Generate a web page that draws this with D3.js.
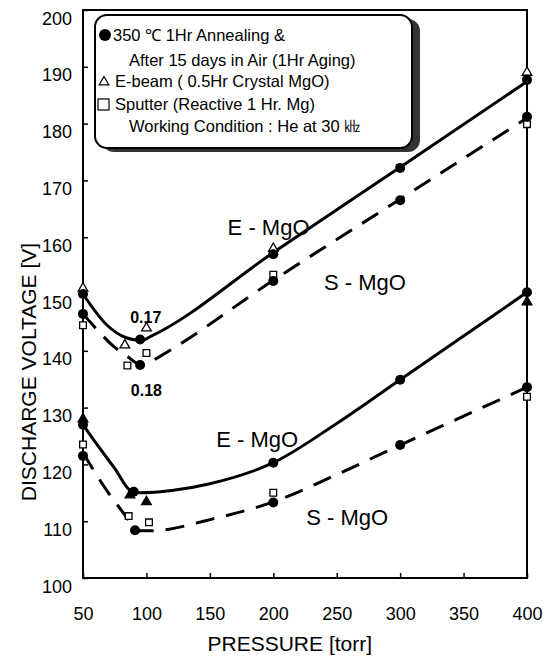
<!DOCTYPE html>
<html>
<head>
<meta charset="utf-8">
<script src="https://cdn.jsdelivr.net/npm/d3@7"></script>
<style>
  body { margin: 0; background: #fff; }
  text { font-family: "Liberation Sans", Arial, sans-serif; fill: #000; }
</style>
</head>
<body>
<div class="chart"></div>
<script>
// Axis ticks
const xTicks = [50, 100, 150, 200, 250, 300, 350, 400];
const yTicks = [100, 110, 120, 130, 140, 150, 160, 170, 180, 190, 200];

// Upper pair, measured points
const upCircEP = [50, 95, 200, 300, 400];
const upCircEV = [150, 142, 157, 172.2, 187.7];
const upTriP = [50, 83, 100, 200, 400];
const upTriV = [151, 141, 144, 158, 189];
const upCircSP = [50, 95, 200, 300, 400];
const upCircSV = [146.5, 137.5, 152.3, 166.5, 181.2];
const upSqP = [50, 85, 100, 200, 400];
const upSqV = [144.5, 137.4, 139.6, 153.4, 179.9];

// Lower pair, measured points
const loCircEP = [50, 90, 200, 300, 400];
const loCircEV = [127, 115.2, 120.3, 134.9, 150.3];
const loTriP = [50, 87, 100, 400];
const loTriV = [128, 114.6, 113.4, 148.6];
const loCircSP = [50, 91, 200, 300, 400];
const loCircSV = [121.5, 108.4, 113.3, 123.4, 133.6];
const loSqP = [50, 86, 102, 200, 400];
const loSqV = [123.5, 110.9, 109.8, 115, 131.9];

// Hand drawn fit curves
const fitUpEP = [50, 69, 84, 96, 103, 200, 300, 400];
const fitUpEV = [150, 144.5, 142.3, 141.8, 142.5, 157.3, 172.3, 187.4];
const fitUpSP = [50, 62, 73, 85, 96, 105, 112, 200, 300, 400];
const fitUpSV = [146.5, 143.5, 141, 139, 137.5, 138.3, 139.2, 152.4, 166.7, 181];
const fitLoEP = [50, 62, 75, 88, 95, 120, 150, 200, 250, 300, 350, 400];
const fitLoEV = [127, 123.2, 119.3, 115.3, 115, 115.4, 116.6, 120.3, 127.2, 134.9, 142.6, 150.3];
const fitLoSP = [50, 70, 85, 92, 105, 118, 145, 200, 250, 300, 350, 400];
const fitLoSV = [122, 115, 110.5, 108.3, 108.3, 108.6, 110, 113.4, 118.2, 123.4, 128.5, 133.6];

// Legend lines
const legendLines = [
    '350 \u2103  1Hr Annealing &',
    'After 15 days in Air (1Hr Aging)',
    'E-beam ( 0.5Hr Crystal MgO)',
    'Sputter (Reactive 1 Hr. Mg)',
    'Working Condition : He  at  30  \u3391'
];

const W = 547, H = 656;
const margin = {top: 10, right: 20, bottom: 78, left: 83},
    width = W - margin.left - margin.right,
    height = H - margin.top - margin.bottom;

const zip = (ps, vs) => ps.map((p, i) => [p, vs[i]]);

const svg = d3.select('.chart')
    .append('svg')
        .attr('width', W)
        .attr('height', H);

const g = svg.append('g')
    .attr('transform', `translate(${margin.left},${margin.top})`);

const x = d3.scaleLinear().domain([50, 400]).range([0, width]);
const y = d3.scaleLinear().domain([100, 200]).range([height, 0]);

// Axes with inward ticks
const xAxis = g.append('g')
    .attr('transform', `translate(0,${height})`)
    .call(d3.axisBottom(x).tickValues(xTicks).tickSizeInner(-5).tickSizeOuter(0).tickPadding(29));
const yAxis = g.append('g')
    .call(d3.axisLeft(y).tickValues(yTicks).tickSizeInner(-5).tickSizeOuter(0).tickPadding(11));
[xAxis, yAxis].forEach(a => {
    a.select('.domain').remove();
    a.selectAll('line').attr('stroke', '#000').attr('stroke-width', 1.5);
    a.selectAll('text')
        .style('font-family', '"Liberation Sans", Arial, sans-serif')
        .style('font-size', '18px')
        .attr('fill', '#000');
});
yAxis.selectAll('text').attr('dy', 14);

// Frame
g.append('rect')
    .attr('width', width)
    .attr('height', height)
    .attr('fill', 'none')
    .attr('stroke', '#000')
    .attr('stroke-width', 2);

// Fit curves
const line = d3.line()
    .x(d => x(d[0]))
    .y(d => y(d[1]))
    .curve(d3.curveMonotoneX);

[[fitUpEP, fitUpEV, null], [fitUpSP, fitUpSV, '19,12'],
 [fitLoEP, fitLoEV, null], [fitLoSP, fitLoSV, '19,12']].forEach(([ps, vs, dash]) => {
    g.append('path')
        .datum(zip(ps, vs))
        .attr('d', line)
        .attr('fill', 'none')
        .attr('stroke', '#000')
        .attr('stroke-width', 3)
        .attr('stroke-dasharray', dash);
});

// Markers
const tri = d3.symbol().type(d3.symbolTriangle).size(40);
const sq = d3.symbol().type(d3.symbolSquare).size(45);

function dots(ps, vs) {
    g.append('g').selectAll('circle')
        .data(zip(ps, vs))
        .enter()
            .append('circle')
            .attr('cx', d => x(d[0]))
            .attr('cy', d => y(d[1]))
            .attr('r', 5)
            .attr('fill', '#000');
}
function shapes(ps, vs, gen, filled) {
    g.append('g').selectAll('path')
        .data(zip(ps, vs))
        .enter()
            .append('path')
            .attr('d', gen)
            .attr('transform', d => `translate(${x(d[0])},${y(d[1])})`)
            .attr('fill', filled ? '#000' : '#fff')
            .attr('stroke', '#000')
            .attr('stroke-width', 1.3);
}
shapes(upTriP, upTriV, tri, false);
shapes(upSqP, upSqV, sq, false);
shapes(loTriP, loTriV, tri, true);
shapes(loSqP, loSqV, sq, false);
dots(upCircEP, upCircEV);
dots(upCircSP, upCircSV);
dots(loCircEP, loCircEV);
dots(loCircSP, loCircSV);

// Curve labels
const lab = (txt, p, v, size, weight, anchor) => g.append('text')
    .attr('x', x(p))
    .attr('y', y(v))
    .attr('text-anchor', anchor || 'start')
    .style('font-size', size + 'px')
    .style('font-weight', weight || 'normal')
    .text(txt);
lab('E - MgO', 164, 160.3, 22);
lab('S - MgO', 240, 150.7, 22);
lab('E - MgO', 155, 123, 22);
lab('S - MgO', 226, 109.3, 22);
lab('0.17', 99.5, 144.9, 16, 'bold', 'middle');
lab('0.18', 100, 132, 16, 'bold', 'middle');

// Legend box
const lg = svg.append('g');
lg.append('rect')
    .attr('x', 102).attr('y', 19)
    .attr('width', 318).attr('height', 133)
    .attr('rx', 12)
    .attr('fill', '#333');
lg.append('rect')
    .attr('x', 95).attr('y', 15)
    .attr('width', 317).attr('height', 133)
    .attr('rx', 12)
    .attr('fill', '#fff')
    .attr('stroke', '#000')
    .attr('stroke-width', 2);
const rowY = [41, 66, 87, 110, 132];
const rowX = [113, 129, 115, 115, 129];
lg.selectAll('text.leg')
    .data(legendLines)
    .enter()
        .append('text')
        .attr('class', 'leg')
        .attr('x', (d, i) => rowX[i])
        .attr('y', (d, i) => rowY[i])
        .style('font-size', '16.5px')
        .text(d => d);
lg.append('circle').attr('cx', 105).attr('cy', 35).attr('r', 6).attr('fill', '#000');
lg.append('path').attr('d', tri).attr('transform', 'translate(104,82)')
    .attr('fill', '#fff').attr('stroke', '#000').attr('stroke-width', 1.2);
lg.append('rect').attr('x', 98).attr('y', 99).attr('width', 11).attr('height', 11)
    .attr('fill', '#fff').attr('stroke', '#000').attr('stroke-width', 1.2);

// Axis titles
svg.append('text')
    .attr('transform', `translate(${margin.left + x(213)}, 651)`)
    .attr('text-anchor', 'middle')
    .style('font-size', '21px')
    .text('PRESSURE [torr]');
svg.append('text')
    .attr('transform', 'translate(36, 372) rotate(-90)')
    .attr('text-anchor', 'middle')
    .style('font-size', '21px')
    .text('DISCHARGE VOLTAGE [V]');
</script>
</body>
</html>
